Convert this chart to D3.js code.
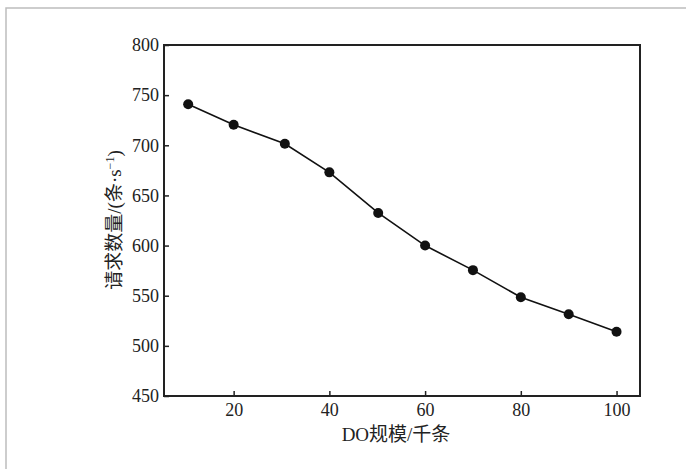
<!DOCTYPE html>
<html>
<head>
<meta charset="utf-8">
<script src="https://cdn.jsdelivr.net/npm/d3@7"></script>
<style>
  body { margin: 0; background: #fff; }
  svg { display: block; }
  .tick text { font-family: "Liberation Serif", "DejaVu Serif", serif; font-size: 18px; fill: #222; }
  .tick line { stroke: #222; stroke-width: 1.5; }
  .axis-label { font-family: "Liberation Serif", "Noto Sans CJK SC", serif; font-size: 19px; fill: #222; }
</style>
</head>
<body>
<svg width="686" height="469"></svg>
<script>
// data
var sizes = [10.5, 20, 30.7, 40, 50.2, 60, 70, 80, 90, 100];
var requests = [741, 720.5, 701.5, 673, 632.5, 600, 575.5, 548.5, 531.5, 514];
var xTicks = [20, 40, 60, 80, 100];
var yTicks = [450, 500, 550, 600, 650, 700, 750, 800];

var svg = d3.select('svg');

// outer gray frame (top + left only)
svg.append('path')
    .attr('d', 'M6,469 V8 H686')
    .attr('fill', 'none')
    .attr('stroke', '#bdbdbd')
    .attr('stroke-width', 1.5);

var plot = {l: 164, r: 640, t: 45, b: 396};

var x = d3.scaleLinear().domain([5.45, 104.9]).range([plot.l, plot.r]);
var y = d3.scaleLinear().domain([450, 800]).range([plot.b, plot.t]);

var gx = svg.append('g')
    .attr('transform', 'translate(0,' + plot.b + ')')
    .call(d3.axisBottom(x).tickValues(xTicks).tickSizeInner(-5).tickSizeOuter(0).tickPadding(7));
gx.select('.domain').remove();

var gy = svg.append('g')
    .attr('transform', 'translate(' + plot.l + ',0)')
    .call(d3.axisLeft(y).tickValues(yTicks).tickSizeInner(-5).tickSizeOuter(0).tickPadding(5));
gy.select('.domain').remove();

// plot frame
svg.append('rect')
    .attr('x', plot.l)
    .attr('y', plot.t)
    .attr('width', plot.r - plot.l)
    .attr('height', plot.b - plot.t)
    .attr('fill', 'none')
    .attr('stroke', '#222')
    .attr('stroke-width', 2);

var line = d3.line()
    .x(function(d, i) { return x(sizes[i]); })
    .y(function(d) { return y(d); });

svg.append('path')
    .datum(requests)
    .attr('d', line)
    .attr('fill', 'none')
    .attr('stroke', '#111')
    .attr('stroke-width', 1.6);

svg.selectAll('.dot')
    .data(requests)
    .enter()
    .append('circle')
    .attr('class', 'dot')
    .attr('cx', function(d, i) { return x(sizes[i]); })
    .attr('cy', function(d) { return y(d); })
    .attr('r', 5)
    .attr('fill', '#111');

svg.append('text')
    .attr('class', 'axis-label')
    .attr('x', 396)
    .attr('y', 441)
    .attr('text-anchor', 'middle')
    .text('DO规模/千条');

var yl = svg.append('text')
    .attr('class', 'axis-label')
    .attr('text-anchor', 'middle')
    .attr('transform', 'translate(121,220) rotate(-90)');
yl.append('tspan').text('请求数量/(条·s');
yl.append('tspan').attr('dy', -7).style('font-size', '12px').text('−1');
yl.append('tspan').attr('dy', 7).text(')');
</script>
</body>
</html>
